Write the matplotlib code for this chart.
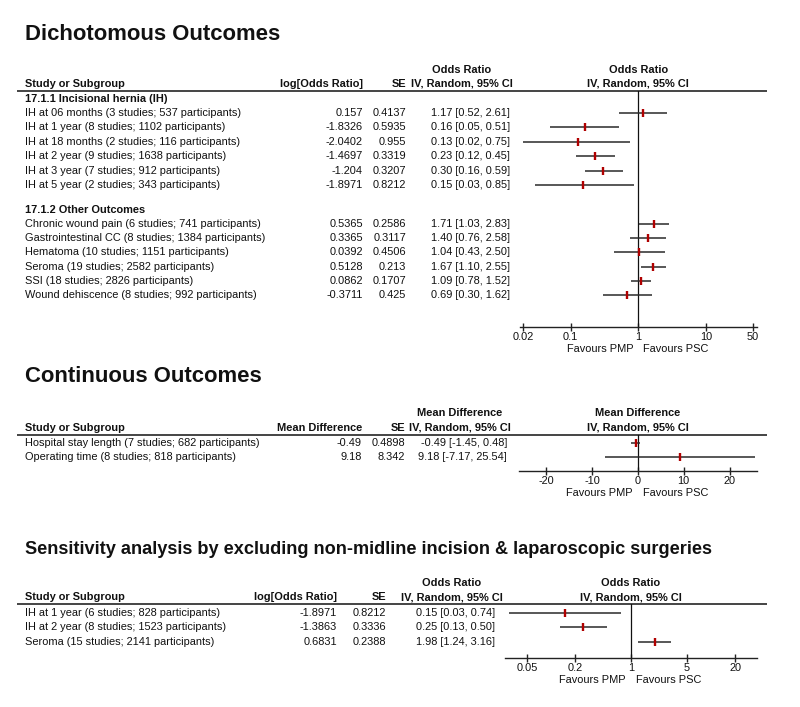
import matplotlib.pyplot as plt
import matplotlib.transforms as mtransforms
from matplotlib.ticker import FixedLocator, FixedFormatter, NullLocator

plt.rcParams['font.family'] = ['Liberation Sans', 'DejaVu Sans']

# ── Data ──────────────────────────────────────────────────────────────────────

ih_labels = [
    "IH at 06 months (3 studies; 537 participants)",
    "IH at 1 year (8 studies; 1102 participants)",
    "IH at 18 months (2 studies; 116 participants)",
    "IH at 2 year (9 studies; 1638 participants)",
    "IH at 3 year (7 studies; 912 participants)",
    "IH at 5 year (2 studies; 343 participants)",
]
ih_log_or = [0.157, -1.8326, -2.0402, -1.4697, -1.204, -1.8971]
ih_se     = [0.4137, 0.5935, 0.955, 0.3319, 0.3207, 0.8212]
ih_or     = [1.17, 0.16, 0.13, 0.23, 0.30, 0.15]
ih_lo     = [0.52, 0.05, 0.02, 0.12, 0.16, 0.03]
ih_hi     = [2.61, 0.51, 0.75, 0.45, 0.59, 0.85]

other_labels = [
    "Chronic wound pain (6 studies; 741 participants)",
    "Gastrointestinal CC (8 studies; 1384 participants)",
    "Hematoma (10 studies; 1151 participants)",
    "Seroma (19 studies; 2582 participants)",
    "SSI (18 studies; 2826 participants)",
    "Wound dehiscence (8 studies; 992 participants)",
]
other_log_or = [0.5365, 0.3365, 0.0392, 0.5128, 0.0862, -0.3711]
other_se     = [0.2586, 0.3117, 0.4506, 0.213, 0.1707, 0.425]
other_or     = [1.71, 1.40, 1.04, 1.67, 1.09, 0.69]
other_lo     = [1.03, 0.76, 0.43, 1.10, 0.78, 0.30]
other_hi     = [2.83, 2.58, 2.50, 2.55, 1.52, 1.62]

cont_labels = [
    "Hospital stay length (7 studies; 682 participants)",
    "Operating time (8 studies; 818 participants)",
]
cont_md = [-0.49, 9.18]
cont_se = [0.4898, 8.342]
cont_lo = [-1.45, -7.17]
cont_hi = [0.48, 25.54]

sens_labels = [
    "IH at 1 year (6 studies; 828 participants)",
    "IH at 2 year (8 studies; 1523 participants)",
    "Seroma (15 studies; 2141 participants)",
]
sens_log_or = [-1.8971, -1.3863, 0.6831]
sens_se     = [0.8212, 0.3336, 0.2388]
sens_or     = [0.15, 0.25, 1.98]
sens_lo     = [0.03, 0.13, 1.24]
sens_hi     = [0.74, 0.50, 3.16]

dich_ticks = [0.02, 0.1, 1, 10, 50]
cont_ticks = [-20, -10, 0, 10, 20]
sens_ticks = [0.05, 0.2, 1, 5, 20]

# ── Style ─────────────────────────────────────────────────────────────────────

W, H = 800, 707
TXT       = "#111111"
LINE_COL  = "#444444"
CI_COL    = "#2a2a2a"
MARK_COL  = "#b00000"
FS        = 7.9
TITLE_FS  = 15.9

fig = plt.figure(figsize=(W / 100, H / 100), dpi=100, facecolor="white")
bg = fig.add_axes([0, 0, 1, 1])
bg.set_xlim(0, W)
bg.set_ylim(H, 0)
bg.axis("off")


def fmt(v):
    return "%g" % v


def ci_text(est, lo, hi):
    return "%.2f [%.2f, %.2f]" % (est, lo, hi)


def table_header(title, title_y, title_fs, h1_y, h2_y, line_y,
                 col1_head, col1_x, se_x, ci_x, ci_head, ci_cx):
    bg.text(25, title_y, title, fontsize=title_fs, fontweight="bold",
            color=TXT, ha="left", va="center")
    kw = dict(fontsize=FS, fontweight="bold", color=TXT, va="center")
    bg.text(25, h2_y, "Study or Subgroup", ha="left", **kw)
    bg.text(col1_x, h2_y, col1_head, ha="right", **kw)
    bg.text(se_x, h2_y, "SE", ha="right", **kw)
    bg.text(ci_cx, h1_y, ci_head, ha="center", **kw)
    bg.text(ci_cx, h2_y, "IV, Random, 95% CI", ha="center", **kw)
    bg.plot([17, 767], [line_y, line_y], color=LINE_COL, lw=1.4,
            solid_capstyle="butt")


def table_rows(ys, labels, effs, ses, ests, los, his, col1_x, se_x, ci_x):
    kw = dict(fontsize=FS, color=TXT, va="center")
    for y, lab, e, s, est, lo, hi in zip(ys, labels, effs, ses, ests, los, his):
        bg.text(25, y, lab, ha="left", **kw)
        bg.text(col1_x, y, fmt(e), ha="right", **kw)
        bg.text(se_x, y, fmt(s), ha="right", **kw)
        bg.text(ci_x, y, ci_text(est, lo, hi), ha="right", **kw)


def forest(x0, x1, top, bottom, xlim, log, ticks, ref, ys, ests, los, his,
           head1, h1_y, h2_y):
    ax = fig.add_axes([x0 / W, 1 - bottom / H, (x1 - x0) / W, (bottom - top) / H])
    ax.patch.set_alpha(0)
    if log:
        ax.set_xscale("log")
    ax.set_xlim(*xlim)
    ax.set_ylim(bottom, top)
    for s in ("top", "left", "right"):
        ax.spines[s].set_visible(False)
    ax.spines["bottom"].set_linewidth(1.0)
    ax.spines["bottom"].set_color("#222222")
    ax.yaxis.set_major_locator(NullLocator())
    ax.xaxis.set_major_locator(FixedLocator(ticks))
    ax.xaxis.set_major_formatter(FixedFormatter([fmt(t) for t in ticks]))
    ax.xaxis.set_minor_locator(NullLocator())
    ax.tick_params(axis="x", direction="inout", length=6, width=1,
                   color="#222222", labelsize=FS, labelcolor=TXT, pad=0.5)
    ax.axvline(ref, color="#111111", lw=0.9)
    ax.hlines(ys, los, his, color=CI_COL, lw=1.1)
    ax.plot(ests, ys, ls="none", marker="|", markersize=5.5,
            markeredgewidth=1.7, color=MARK_COL)

    tr = mtransforms.blended_transform_factory(ax.transData, bg.transData)
    kw = dict(fontsize=FS, fontweight="bold", color=TXT, ha="center", va="center")
    ax.text(ref, h1_y, head1, transform=tr, **kw)
    ax.text(ref, h2_y, "IV, Random, 95% CI", transform=tr, **kw)

    tf = mtransforms.blended_transform_factory(ax.transData, ax.transAxes)
    fav_y = -22
    ax.text(ref, 0, "Favours PMP", fontsize=FS, color=TXT, ha="right", va="center",
            transform=mtransforms.offset_copy(tf, fig=fig, x=-5, y=fav_y, units="dots"))
    ax.text(ref, 0, "Favours PSC", fontsize=FS, color=TXT, ha="left", va="center",
            transform=mtransforms.offset_copy(tf, fig=fig, x=5, y=fav_y, units="dots"))
    return ax


# ── Section 1: Dichotomous outcomes ───────────────────────────────────────────

table_header("Dichotomous Outcomes", 35, TITLE_FS, 70, 84, 91,
             "log[Odds Ratio]", 363, 406, 510, "Odds Ratio", 462)
bg.text(25, 99, "17.1.1 Incisional hernia (IH)", fontsize=FS,
        fontweight="bold", color=TXT, va="center")
ih_y = [113 + 14.4 * i for i in range(len(ih_labels))]
table_rows(ih_y, ih_labels, ih_log_or, ih_se, ih_or, ih_lo, ih_hi, 363, 406, 510)
bg.text(25, 210, "17.1.2 Other Outcomes", fontsize=FS,
        fontweight="bold", color=TXT, va="center")
other_y = [224 + 14.2 * i for i in range(len(other_labels))]
table_rows(other_y, other_labels, other_log_or, other_se, other_or,
           other_lo, other_hi, 363, 406, 510)

forest(520, 757, 91, 327, (10 ** -1.75, 10 ** 1.755), True, dich_ticks, 1,
       ih_y + other_y, ih_or + other_or, ih_lo + other_lo, ih_hi + other_hi,
       "Odds Ratio", 70, 84)

# ── Section 2: Continuous outcomes ────────────────────────────────────────────

table_header("Continuous Outcomes", 377, TITLE_FS, 413, 428, 435,
             "Mean Difference", 362, 405, 507, "Mean Difference", 460)
cont_y = [443 + 14.2 * i for i in range(len(cont_labels))]
table_rows(cont_y, cont_labels, cont_md, cont_se, cont_md, cont_lo, cont_hi,
           362, 405, 507)
forest(519, 757, 435, 471, (-26, 26), False, cont_ticks, 0,
       cont_y, cont_md, cont_lo, cont_hi, "Mean Difference", 413, 428)

# ── Section 3: Sensitivity analysis ───────────────────────────────────────────

table_header("Sensitivity analysis by excluding non-midline incision & laparoscopic surgeries",
             550, 13.1, 583, 597, 604,
             "log[Odds Ratio]", 337, 386, 495, "Odds Ratio", 452)
sens_y = [613 + 14.5 * i for i in range(len(sens_labels))]
table_rows(sens_y, sens_labels, sens_log_or, sens_se, sens_or, sens_lo, sens_hi,
           337, 386, 495)
forest(505, 757, 604, 658, (10 ** -1.575, 10 ** 1.575), True, sens_ticks, 1,
       sens_y, sens_or, sens_lo, sens_hi, "Odds Ratio", 583, 597)

fig.savefig("out.png", dpi=100, facecolor="white")
